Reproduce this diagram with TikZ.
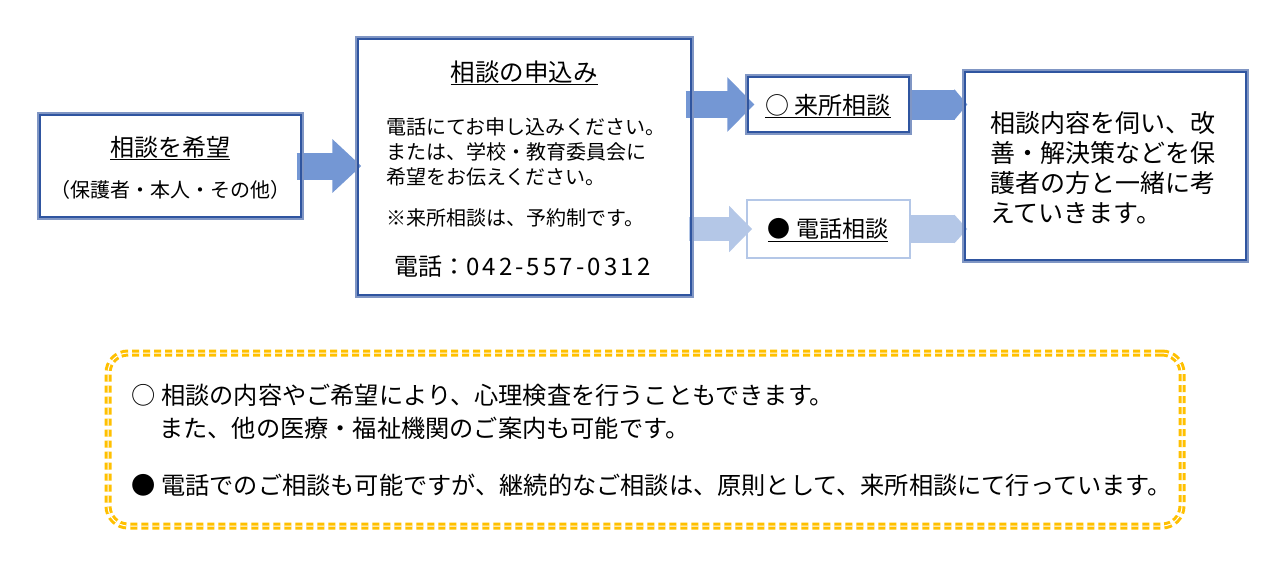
\documentclass[tikz,border=0pt]{standalone}
\usepackage{fontspec}
\setmainfont{Noto Sans CJK JP}
\usetikzlibrary{arrows.meta,calc}
\definecolor{outerblue}{RGB}{128,150,196}
\definecolor{innerblue}{RGB}{47,85,160}
\definecolor{arrowdark}{RGB}{116,151,212}
\definecolor{arrowlight}{RGB}{180,199,231}
\definecolor{notegold}{RGB}{255,192,0}
\newcommand{\jsize}[2]{\fontsize{#1}{#2}\selectfont}
\pgfdeclarelayer{background}
\pgfsetlayers{background,main}
\tikzset{>=latex,
  dblbox/.style={draw=outerblue,line width=1.3pt,inner sep=0pt},
  innerline/.style={draw=innerblue,line width=1.4pt},
  thinbox/.style={draw=arrowlight,line width=1.8pt,inner sep=0pt},
  notebox/.style={draw=notegold,line width=7pt,inner sep=0pt,
    dash pattern=on 7pt off 4pt,rounded corners=20pt,
    postaction={draw=white,line width=1pt,dash pattern=on 7pt off 4pt}},
  txt/.style={inner sep=0pt,text=black},
  blockarrow/.style={line width=#1}
}

\begin{document}
\begin{tikzpicture}[x=1pt,y=-1pt]
\useasboundingbox (0,0) rectangle (1287,568);
\begin{scope}[every node/.style={dblbox}]
\node[minimum width=265pt,minimum height=106pt] (wish) at (170.5,166) {};
\node[minimum width=337pt,minimum height=260pt] (apply) at (524.5,167) {};
\node[minimum width=165pt,minimum height=59pt] (visit) at (828.5,104.5) {};
\node[minimum width=285pt,minimum height=192pt] (result) at (1105.5,166) {};
\end{scope}
% inner line of the double frames
\foreach \n in {wish,apply,visit,result}
  \draw[innerline] ($(\n.south west)+(2.6,-2.6)$) rectangle ($(\n.north east)+(-2.6,2.6)$);
\node[thinbox,minimum width=163pt,minimum height=58pt] (phone) at (828.5,229) {};
\node[notebox,minimum width=1074pt,minimum height=173pt] (note) at (645,439.5) {};

% texts
\begin{scope}[every node/.style={txt}]
\node[font=\jsize{24}{28}] (wishtitle) at (170,148) {\underline{相談を希望}};
\node[font=\jsize{20}{22}] (wishsub) at (170,190) {（保護者・本人・その他）};
\node[font=\jsize{24.5}{28}] (applytitle) at (524,73) {\underline{相談の申込み}};
\node[font=\jsize{20}{25},align=left,anchor=west] (applybody) at (386,152)
  {電話にてお申し込みください。\\または、学校・教育委員会に\\希望をお伝えください。};
\node[font=\jsize{20}{25},anchor=west] (applynote) at (386,218) {※来所相談は、予約制です。};
\node[font=\jsize{24}{28},anchor=west] (applytel) at (394,267)
  {電話：{\addfontfeature{LetterSpace=13}042-557-0312}};
\node[font=\jsize{24}{28}] (visittext) at (828,106) {\underline{○ 来所相談}};
\node[font=\jsize{23}{28}] (phonetext) at (828,230) {\underline{● 電話相談}};
\node[font=\jsize{25}{30},align=left,anchor=west] (resulttext) at (990,168)
  {相談内容を伺い、改\\善・解決策などを保\\護者の方と一緒に考\\えていきます。};
\node[font=\jsize{24.2}{28},anchor=west] (note1) at (131,395) {○\hspace{6pt}相談の内容やご希望により、心理検査を行うこともできます。};
\node[font=\jsize{24.2}{28},anchor=west] (note2) at (159,428) {また、他の医療・福祉機関のご案内も可能です。};
\node[font=\jsize{24.2}{28},anchor=west] (note3) at (131,485) {●\hspace{6pt}電話でのご相談も可能ですが、継続的なご相談は、原則として、来所相談にて行っています。};
\end{scope}

\begin{pgfonlayer}{background}
\draw[arrowdark,blockarrow=27pt,-{Triangle[length=29pt,width=52pt]}]
  ($(wish.east)+(-7,0)$) -- ($(apply.west |- wish.east)+(6,0)$);
\draw[arrowdark,blockarrow=27pt,-{Triangle[length=27pt,width=53pt]}]
  ($(apply.east |- visit.west)+(-8,0)$) -- ($(visit.west)+(9,0)$);
\draw[arrowlight,blockarrow=24pt,-{Triangle[length=23pt,width=45pt]}]
  ($(apply.east |- phone.west)+(-5,0)$) -- ($(phone.west)+(6,0)$);
\draw[arrowdark,blockarrow=30pt,-{Triangle[length=13pt,width=30pt]}]
  ($(visit.east)+(-3,0)$) -- ($(result.west |- visit.east)+(5,0)$);
\draw[arrowlight,blockarrow=28pt,-{Triangle[length=13pt,width=28pt]}]
  ($(phone.east)+(-2,0)$) -- ($(result.west |- phone.east)+(5,0)$);
\end{pgfonlayer}
\end{tikzpicture}
\end{document}
